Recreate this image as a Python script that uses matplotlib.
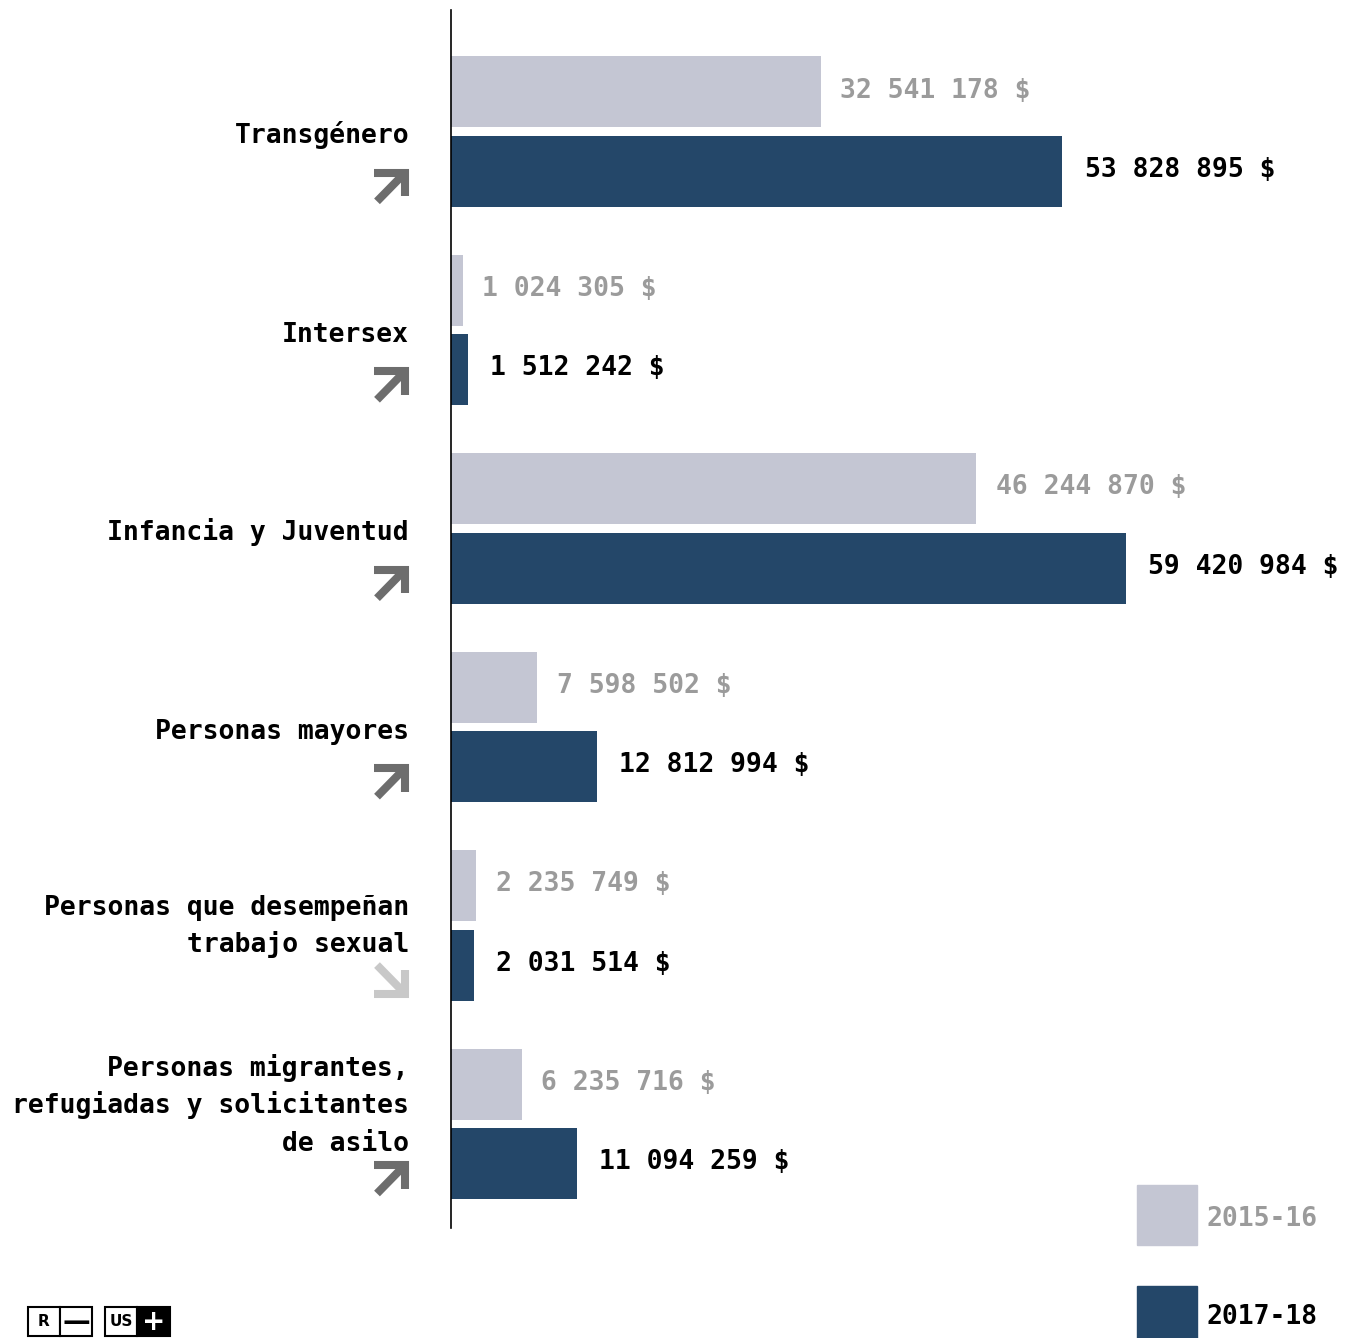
"""
Fondos por población: 2015-16 vs 2017-18
"""
import matplotlib
matplotlib.use('Agg')
import matplotlib.pyplot as plt
import matplotlib.transforms as mtransforms
from matplotlib.patches import Rectangle
from matplotlib.lines import Line2D

# datos
categorias = [
    ['Transgénero'],
    ['Intersex'],
    ['Infancia y Juventud'],
    ['Personas mayores'],
    ['Personas que desempeñan', 'trabajo sexual'],
    ['Personas migrantes,', 'refugiadas y solicitantes', 'de asilo'],
]
fondos_2015 = [32541178, 1024305, 46244870, 7598502, 2235749, 6235716]
fondos_2017 = [53828895, 1512242, 59420984, 12812994, 2031514, 11094259]
periodos = ['2015-16', '2017-18']

# estilo
C_CLARO = '#c4c6d3'
C_OSCURO = '#244769'
C_TXT_CLARO = '#9b9b9b'
C_FLECHA_SUBE = '#6d6d6d'
C_FLECHA_BAJA = '#c8c8c8'
FUENTE = ['DejaVu Sans Mono']
TAM = 19

W, H = 1354, 1338
plt.rcParams['font.family'] = FUENTE
plt.rcParams['font.weight'] = 'bold'

fig = plt.figure(figsize=(W / 100, H / 100), dpi=100)
ax = fig.add_axes([451 / W, 1 - 1228 / H, 1 - 451 / W, (1228 - 10) / H])

y_claro = list(range(len(categorias)))
y_oscuro = [y + 0.4 for y in y_claro]
alto = 0.358

ax.barh(y_claro, fondos_2015, height=alto, color=C_CLARO)
ax.barh(y_oscuro, fondos_2017, height=alto, color=C_OSCURO)
ax.set_xlim(0, 79.5e6)
ax.set_ylim(5.725, -0.413)

for s in ['top', 'right', 'bottom']:
    ax.spines[s].set_visible(False)
ax.spines['left'].set_linewidth(1.2)
ax.spines['left'].set_color('black')
ax.set_xticks([])
ax.set_yticks([])


def fmt(v):
    return f"{v:,}".replace(',', ' ') + ' $'


for y, v in zip(y_claro, fondos_2015):
    ax.annotate(fmt(v), xy=(v, y), xytext=(14, 1), textcoords='offset points',
                va='center', ha='left', fontsize=TAM, color=C_TXT_CLARO,
                fontweight='bold')
for y, v in zip(y_oscuro, fondos_2017):
    ax.annotate(fmt(v), xy=(v, y), xytext=(16, 1), textcoords='offset points',
                va='center', ha='left', fontsize=TAM, color='black',
                fontweight='bold')

# etiquetas de categoría (línea por línea) y flechas
px = 72 / 100  # pixeles -> puntos
for lineas, y, v0, v1 in zip(categorias, y_oscuro, fondos_2015, fondos_2017):
    base = 28 if len(lineas) == 1 else 13
    for k, linea in enumerate(reversed(lineas)):
        ax.annotate(linea, xy=(0, y), xytext=(-42 * px, (base + 37.5 * k) * px),
                    textcoords='offset points', ha='right', va='baseline',
                    fontsize=TAM, color='black', fontweight='bold')

    # flecha: sube o baja según la variación
    sube = v1 >= v0
    s = 1 if sube else -1
    tr = fig.dpi_scale_trans + mtransforms.ScaledTranslation(0, y, ax.transData)
    cy = -15 / 100  # centro de la flecha, debajo de la barra oscura
    col = C_FLECHA_SUBE if sube else C_FLECHA_BAJA
    cabeza = Line2D([-77 / 100, -46 / 100, -46 / 100],
                    [cy + s * 13.5 / 100, cy + s * 13.5 / 100, cy - s * 10 / 100],
                    transform=tr, color=col, lw=5.8,
                    solid_joinstyle='miter', solid_capstyle='butt')
    cuerpo = Line2D([-74 / 100, -49 / 100],
                    [cy - s * 15 / 100, cy + s * 10.5 / 100],
                    transform=tr, color=col, lw=5.8, solid_capstyle='butt')
    ax.add_artist(cabeza)
    ax.add_artist(cuerpo)
    cabeza.set_clip_on(False)
    cuerpo.set_clip_on(False)


# leyenda
def rect_px(x0, y0, x1, y1, **kw):
    r = Rectangle((x0 / W, 1 - y1 / H), (x1 - x0) / W, (y1 - y0) / H,
                  transform=fig.transFigure, **kw)
    fig.add_artist(r)
    return r


rect_px(1137, 1185, 1197, 1245, color=C_CLARO)
rect_px(1137, 1286, 1197, 1346, color=C_OSCURO)
fig.text(1207 / W, 1 - 1219 / H, periodos[0], va='center', ha='left',
         fontsize=TAM, color=C_TXT_CLARO, fontweight='bold')
fig.text(1207 / W, 1 - 1317 / H, periodos[1], va='center', ha='left',
         fontsize=TAM, color='black', fontweight='bold')

# logo
logo = [('R', 28, 60, 'white', 'black'), ('—', 60, 92, 'white', 'black'),
        ('US', 105, 137, 'white', 'black'), ('+', 137, 170, 'black', 'white')]
for txt, x0, x1, fondo, tinta in logo:
    rect_px(x0, 1307, x1, 1336, facecolor=fondo, edgecolor='black', lw=1.5)
    fs = 20 if txt in ('—', '+') else 11
    fig.text((x0 + x1) / 2 / W, 1 - 1321.5 / H, txt, ha='center', va='center',
             fontsize=fs, color=tinta, fontweight='bold', family=['DejaVu Sans'])

fig.savefig('out.png', dpi=100)
